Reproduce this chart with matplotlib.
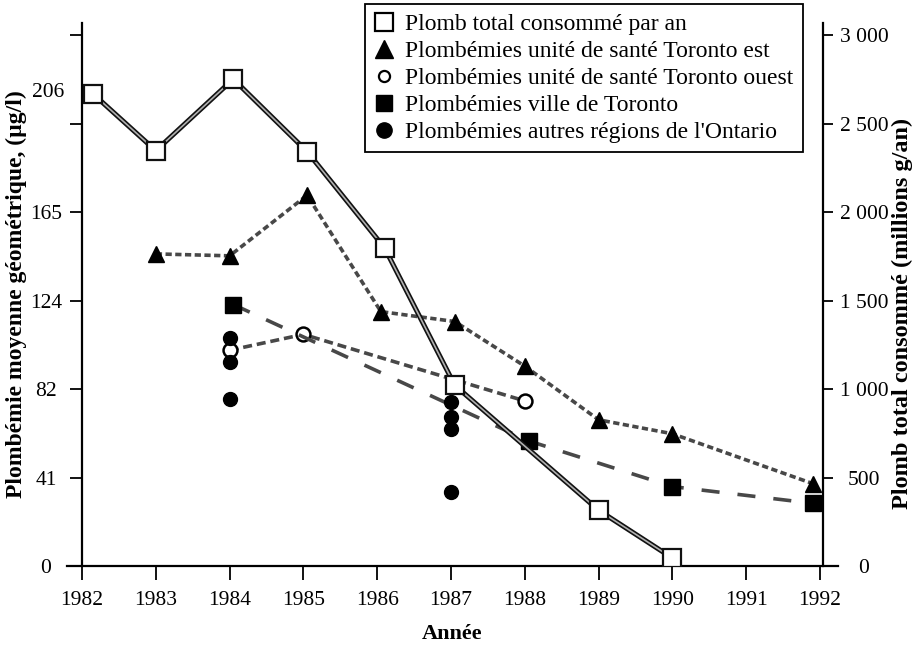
import numpy as np
import matplotlib.pyplot as plt
from matplotlib.lines import Line2D

plt.rcParams['font.family'] = ['Liberation Serif', 'DejaVu Serif']
plt.rcParams['lines.scale_dashes'] = False

### lead consumed per year (right axis, millions g/an)
years_total = [1982.15, 1983, 1984.05, 1985.05, 1986.1, 1987.05, 1989, 1990]
total = [2669, 2348, 2753, 2343, 1798, 1022, 315, 45]

### blood lead levels (left axis, ug/l)
years_est = [1983, 1984, 1985.05, 1986.05, 1987.05, 1988, 1989, 1990, 1991.9]
est = [145.4, 144.5, 172.7, 118.5, 113.9, 93.1, 68.1, 61.6, 38.4]

years_ouest = [1984, 1985, 1988]
ouest = [100.5, 107.9, 76.9]

years_ville = [1984.05, 1988.05, 1990, 1991.9]
ville = [121.8, 58.3, 37.0, 29.2]

years_autres = [1984, 1984, 1984, 1987, 1987, 1987, 1987]
autres = [106.0, 94.9, 77.8, 76.4, 69.5, 63.9, 34.7]

### axis ticks
year_ticks = np.arange(1982, 1993)
right_ticks = np.arange(0, 3001, 500)
right_labels = ['0', '500', '1 000', '1 500', '2 000', '2 500', '3 000']
left_labels = ['0', '41', '82', '124', '165', '', '']
k = 0.0824   # left units per right unit
ytop = 3070

labels = ['Plomb total consommé par an',
          'Plombémies unité de santé Toronto est',
          'Plombémies unité de santé Toronto ouest',
          'Plombémies ville de Toronto',
          "Plombémies autres régions de l'Ontario"]

fig = plt.figure(figsize=(9.22, 6.46), dpi=100)
ax = fig.add_axes([82/922, 80/646, 741/922, 543/646])
ax2 = ax.twinx()

dash_col = '#484848'
ax.plot(years_est, est, color=dash_col, lw=2.6, dashes=(4.5, 2.5),
        marker='^', ms=12, mfc='black', mec='black', zorder=3)
ax.plot(years_ouest, ouest, color=dash_col, lw=2.6, dashes=(6.5, 3.5),
        marker='o', ms=10, mfc='white', mec='black', mew=1.8, zorder=3)
ax.plot(years_ville, ville, color=dash_col, lw=2.6, dashes=(13, 13),
        marker='s', ms=11, mfc='black', mec='black', zorder=3)
ax.plot(years_autres, autres, ls='none', marker='o', ms=10,
        mfc='black', mec='black', zorder=4)

### double line for total consumption
ax2.plot(years_total, total, color='#111111', lw=3.6, zorder=2)
ax2.plot(years_total, total, color='#b0b0b0', lw=1.2, zorder=2)
ax2.plot(years_total, total, ls='none', marker='s', ms=13,
         mfc='white', mec='#111111', mew=1.6, zorder=3)

### axes limits and ticks
ax.set_xlim(1982, 1992.04)
ax2.set_ylim(0, ytop)
ax.set_ylim(0, ytop * k)
ax.set_xticks(year_ticks)
ax.set_xticklabels([str(y) for y in year_ticks], fontsize=15.5)
ax.set_yticks(right_ticks * k)
ax.set_yticklabels(left_labels, fontsize=15.5)
ax2.set_yticks(right_ticks)
ax2.set_yticklabels(right_labels, fontsize=15.5)
for lab in ax.get_yticklabels():
    lab.set_horizontalalignment('center')
for lab in ax2.get_yticklabels():
    lab.set_horizontalalignment('center')
ax.text(1982 - 34/73.8, 220.8, '206', fontsize=15.5, ha='center', va='center')

ax.tick_params(axis='y', direction='out', length=9, width=1.3, pad=17)
ax.tick_params(axis='x', direction='out', length=10, width=1.3, pad=8)
ax2.tick_params(axis='y', direction='out', length=7.5, width=1.3, pad=22)

for a in (ax, ax2):
    a.spines['top'].set_visible(False)
    for s in ('left', 'right', 'bottom'):
        a.spines[s].set_linewidth(1.6)
ax.spines['right'].set_visible(False)
ax2.spines['left'].set_visible(False)
ax2.spines['bottom'].set_visible(False)
ax.spines['bottom'].set_bounds(1981.8, 1992.24)

ax.set_xlabel('Année', fontsize=16, fontweight='bold', labelpad=10)
ax.set_ylabel('Plombémie moyenne géométrique, (µg/l)', fontsize=17,
              fontweight='bold', labelpad=2)
ax2.set_ylabel('Plomb total consommé (millions g/an)', fontsize=17.5,
               fontweight='bold')
ax2.yaxis.set_label_coords(1.093, 0.466)

### legend with markers only
handles = [
    Line2D([], [], ls='none', marker='s', ms=13, mfc='white', mec='black', mew=1.6),
    Line2D([], [], ls='none', marker='^', ms=13, mfc='black', mec='black'),
    Line2D([], [], ls='none', marker='o', ms=8, mfc='white', mec='black', mew=1.6),
    Line2D([], [], ls='none', marker='s', ms=12, mfc='black', mec='black'),
    Line2D([], [], ls='none', marker='o', ms=11, mfc='black', mec='black'),
]
leg = fig.legend(handles, labels, loc='upper left',
                 bbox_to_anchor=(365/922, 1 - 4/646), fontsize=17,
                 frameon=True, fancybox=False, framealpha=1,
                 edgecolor='black', handlelength=0.8, handletextpad=0.5,
                 labelspacing=0.23, borderpad=0.4, borderaxespad=0)
leg.get_frame().set_linewidth(1.3)

fig.savefig('out.png', dpi=100)
